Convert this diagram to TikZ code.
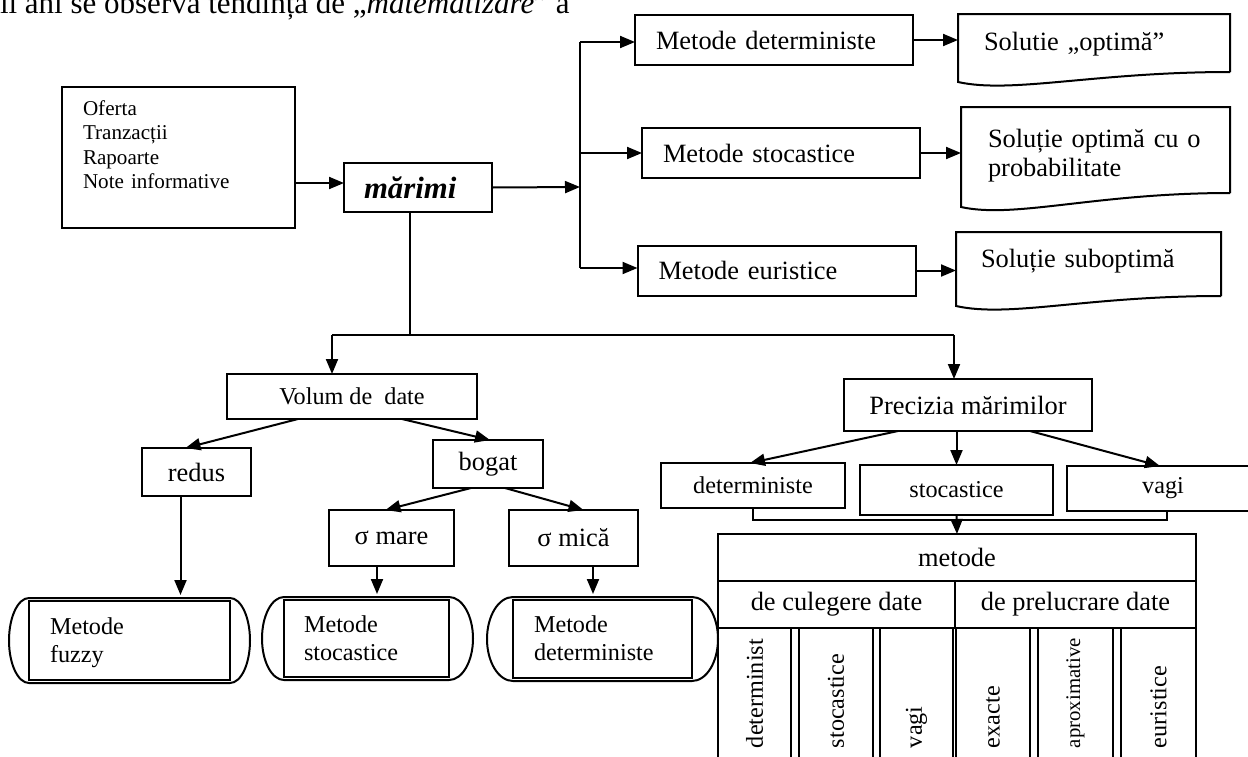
\documentclass[tikz,border=0pt]{standalone}
\usepackage{fontspec}
\setmainfont{Liberation Serif}
\usetikzlibrary{arrows.meta,positioning}

\begin{document}
\begin{tikzpicture}
[x=1pt, y=-1pt, line width=2pt, >={Triangle[length=15pt,width=12pt]},
% STYLES
every node/.style={inner sep=0pt, outer sep=0pt},
% The box style is used for the plain framed nodes
box/.style={draw, rectangle, align=center, font=\fontsize{26.4}{29}\selectfont},
% The method style is used for the three methods on the right of the bus
method/.style={draw, rectangle, minimum height=50pt, text width=236pt, inner xsep=21pt, align=left, font=\fontsize{26.4}{29}\selectfont},
% The result style is used for the document shaped nodes (outline drawn by hand)
result/.style={rectangle, anchor=north west, inner ysep=0pt, align=left, font=\fontsize{26.4}{29}\selectfont},
% The term style is used for the inner part of the rounded method nodes
term/.style={draw, rectangle, anchor=north west, inner xsep=21pt, inner ysep=0pt, align=left, font=\fontsize{24.2}{28}\selectfont},
% The cell style is used for the upright columns of the table
cell/.style={draw, rectangle, rotate=90, text width=110pt, inner xsep=10pt, align=left, font=\fontsize{24.2}{28}\selectfont}]

\useasboundingbox (0,0) rectangle (1248,756);

% Text of the page above the figure
\node[anchor=base west, font=\fontsize{31}{36}\selectfont] (intro) at (0,13) {ii ani se observa tendința de „\textit{matematizare}” a};

% Draw sources and the central node
\node[draw, anchor=north west, text width=191pt, inner xsep=21pt, inner ysep=0pt, align=left, text height=28pt, text depth=113pt, font=\fontsize{21.1}{24.5}\selectfont] (surse) at (62,87) {Oferta\\Tranzacții\\Rapoarte\\Note informative};
\node[box, minimum width=148pt, minimum height=49pt, text width=108pt, inner xsep=20pt, align=left, font=\fontsize{30.8}{34}\selectfont\bfseries\itshape] (marimi) at (418,187.5) {mărimi};

% Methods and their results
\node[method] (determ) at (774,40) {Metode deterministe};
\node[method] (stocast) at (781,153) {Metode stocastice};
\node[method] (eurist) at (776.5,270.5) {Metode euristice};
\node[result, text height=36pt, text depth=22pt, text width=220pt, inner xsep=26pt] (solopt) at (958,14) {Solutie „optimă”};
\node[result, text height=40pt, text depth=46pt, text width=215pt, inner xsep=27pt] (solprob) at (961,107) {Soluție optimă cu o\\probabilitate};
\node[result, text height=35pt, text depth=29pt, text width=215pt, inner xsep=25pt] (solsub) at (956,232) {Soluție suboptimă};

\draw (solopt.south east) -- (solopt.north east) -- (solopt.north west) -- ([yshift=-10pt]solopt.south west) .. controls +(54pt,-12pt) and +(-135pt,0pt) .. (solopt.south east);
\draw (solprob.south east) -- (solprob.north east) -- (solprob.north west) -- ([yshift=-14pt]solprob.south west) .. controls +(54pt,-12pt) and +(-135pt,0pt) .. (solprob.south east);
\draw (solsub.south east) -- (solsub.north east) -- (solsub.north west) -- ([yshift=-10pt]solsub.south west) .. controls +(54pt,-12pt) and +(-135pt,0pt) .. (solsub.south east);

% Bus on the right of marimi
\coordinate (busm) at (580,187);
\coordinate (bust) at (580,42);
\coordinate (busb) at (580,268);
\draw (bust) -- (busb);

% Volume of data
\node[box, minimum width=250pt, minimum height=45pt, font=\fontsize{24.2}{28}\selectfont] (volum) at (352,396.5) {Volum de~ date};
\node[box, minimum width=109pt, minimum height=48pt] (redus) at (196.5,472) {redus};
\node[box, minimum width=110pt, minimum height=48pt] (bogat) at (488,464) {bogat};
\node[box, minimum width=125pt, minimum height=56pt] (smare) at (391.5,538) {σ mare};
\node[box, minimum width=129pt, minimum height=56pt] (smica) at (573.5,538) {σ mică};

\node[term, minimum width=201pt, text width=159pt, text height=33pt, text depth=46pt] (fz) at (29,601) {Metode\\fuzzy};
\node[term, minimum width=165pt, text width=125pt, inner xsep=20pt, text height=32pt, text depth=45pt] (st) at (284,600) {Metode\\stocastice};
\node[term, minimum width=179pt, text width=137pt, text height=32pt, text depth=46pt] (dt) at (513,600) {Metode\\deterministe};

\draw ([yshift=3pt]fz.north west) -- ([yshift=3pt]fz.north east) arc[start angle=90, end angle=-90, x radius=20pt, y radius=42.5pt] -- ([yshift=-3pt]fz.south west) arc[start angle=270, end angle=90, x radius=20pt, y radius=42.5pt] -- cycle;
\draw ([yshift=3pt]st.north west) -- ([yshift=3pt]st.north east) arc[start angle=90, end angle=-90, x radius=24pt, y radius=41.5pt] -- ([yshift=-3pt]st.south west) arc[start angle=270, end angle=90, x radius=22pt, y radius=41.5pt] -- cycle;
\draw ([yshift=3pt]dt.north west) -- ([yshift=3pt]dt.north east) arc[start angle=90, end angle=-90, x radius=26pt, y radius=42pt] -- ([yshift=-3pt]dt.south west) arc[start angle=270, end angle=90, x radius=26pt, y radius=42pt] -- cycle;

% Precision of the values
\node[box, minimum width=248pt, minimum height=52pt] (precizia) at (968,405) {Precizia mărimilor};
\node[box, minimum width=184pt, minimum height=45pt, font=\fontsize{24.2}{28}\selectfont] (pdet) at (753,485.5) {deterministe};
\node[box, minimum width=193pt, minimum height=50pt, font=\fontsize{24.2}{28}\selectfont] (pstoc) at (956.5,490) {stocastice};
\node[box, minimum width=192pt, minimum height=45pt, font=\fontsize{24.2}{28}\selectfont] (pvagi) at (1163,488.5) {vagi};

% Table of methods
\node[box, minimum width=478pt, minimum height=47pt] (metode) at (957,557.5) {metode};
\node[box, minimum width=237pt, minimum height=47pt] (culeg) at (836.5,604.5) {de culegere date};
\node[box, minimum width=241pt, minimum height=47pt] (prelucr) at (1075.5,604.5) {de prelucrare date};
\node[cell, minimum height=73pt] (cdet) at (754.5,693) {determinist};
\node[cell, minimum height=74pt] (cstoc) at (836,693) {stocastice};
\node[cell, minimum height=73pt] (cvagi) at (916.5,693) {vagi};
\node[cell, minimum height=74pt] (cexact) at (993,693) {exacte};
\node[cell, minimum height=75pt, font=\fontsize{20.8}{24}\selectfont] (caprox) at (1075.5,693) {aproximative};
\node[cell, minimum height=75pt] (ceur) at (1158.5,693) {euristice};

% Draw the links
\coordinate (split) at (410,335);
\coordinate (jl) at (332,335);
\coordinate (jr) at (954,335);
\coordinate (mrg) at (957,520);
\draw (marimi.south -| split) -- (split);
\draw (jl) -- (jr);
\draw (pdet.south) |- ([xshift=4pt]pvagi.south |- mrg) -- ([xshift=4pt]pvagi.south);

\path[->]
(surse.east |- 0,183) edge (marimi.west |- 0,183)
(marimi.east) edge (busm)
(bust) edge (bust -| determ.west)
(stocast.west -| bust) edge (stocast.west)
(busb) edge (busb -| eurist.west)
(determ.east) edge (determ.east -| solopt.west)
(stocast.east) edge (stocast.east -| solprob.west)
(eurist.east) edge (eurist.east -| solsub.west)
(jl) edge (jl |- volum.north)
(jr) edge (jr |- precizia.north)
([xshift=-54pt]volum.south) edge ([xshift=-11pt]redus.north)
([xshift=50pt]volum.south) edge ([xshift=2pt]bogat.north)
([xshift=-17pt]bogat.south) edge ([xshift=-6pt]smare.north)
([xshift=17pt]bogat.south) edge ([xshift=10pt]smica.north)
([xshift=-70pt]precizia.south) edge ([xshift=-3pt]pdet.north)
(precizia.south -| pstoc.north) edge (pstoc.north)
([xshift=62pt]precizia.south) edge ([xshift=-3pt]pvagi.north)
(pstoc.south) edge (metode.north);

\path[->, shorten >=6pt]
([xshift=-16pt]redus.south) edge ([xshift=-16pt]redus.south |- fz.north)
([xshift=-14.5pt]smare.south) edge ([xshift=-14.5pt]smare.south |- st.north)
([xshift=19.5pt]smica.south) edge ([xshift=19.5pt]smica.south |- dt.north);

\end{tikzpicture}
\end{document}
